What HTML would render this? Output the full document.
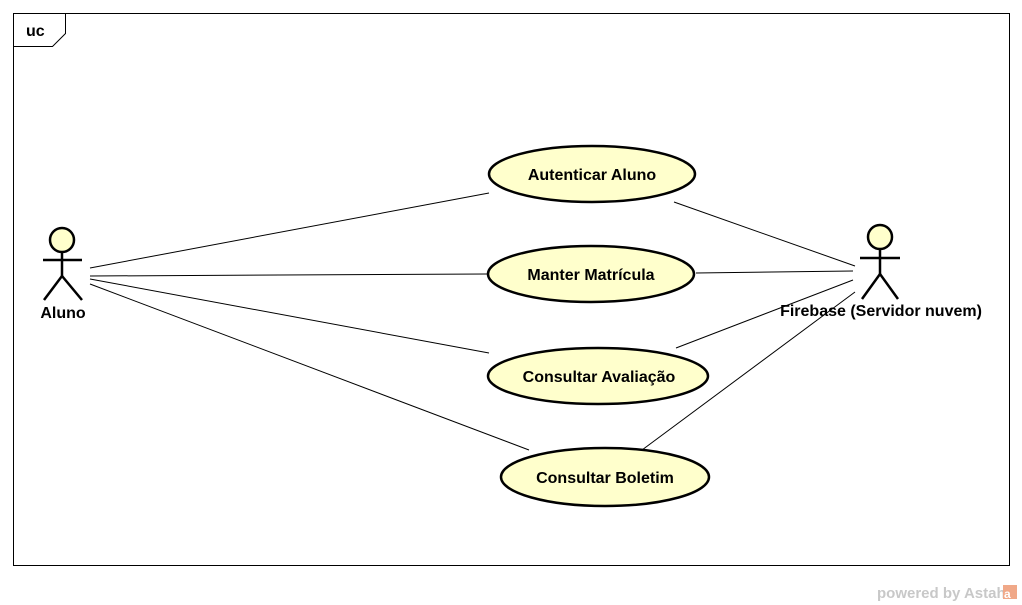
<!DOCTYPE html>
<html><head><meta charset="utf-8"><style>
html,body{margin:0;padding:0;background:#fff;width:1022px;height:605px;overflow:hidden}
text{font-family:"Liberation Sans",Arial,sans-serif;font-weight:bold}
</style></head><body>
<svg width="1022" height="605" viewBox="0 0 1022 605" xmlns="http://www.w3.org/2000/svg">
<rect x="13.5" y="13.5" width="996" height="552" fill="#fff" stroke="#000" stroke-width="1"/>
<path d="M13.5 46.5 H52.5 L65.5 33.5 V13.5" fill="none" stroke="#000"/>
<text x="26" y="36" font-size="16" font-weight="bold">uc</text>
<g stroke="#000" stroke-width="1" fill="none">
<line x1="90" y1="268" x2="489" y2="193"/>
<line x1="90" y1="276" x2="487" y2="274"/>
<line x1="90" y1="279" x2="489" y2="353"/>
<line x1="90" y1="284" x2="529" y2="450"/>
<line x1="674" y1="202" x2="855" y2="266"/>
<line x1="696" y1="273" x2="853" y2="271"/>
<line x1="676" y1="348" x2="853" y2="280"/>
<line x1="642" y1="450" x2="855" y2="292"/>
</g>
<g stroke="#000" stroke-width="2.5" fill="#ffffcc">
<ellipse cx="592" cy="174" rx="103" ry="28"/>
<ellipse cx="591" cy="274" rx="103" ry="28"/>
<ellipse cx="598" cy="376" rx="110" ry="28"/>
<ellipse cx="605" cy="477" rx="104" ry="29"/>
</g>
<g font-size="16" text-anchor="middle">
<text x="592" y="180">Autenticar Aluno</text>
<text x="591" y="280">Manter Matrícula</text>
<text x="599" y="382">Consultar Avaliação</text>
<text x="605" y="483">Consultar Boletim</text>
</g>
<g stroke="#000" stroke-width="2.5" fill="none">
<circle cx="62" cy="240" r="12" fill="#ffffcc"/>
<line x1="43" y1="260" x2="82" y2="260"/>
<line x1="62" y1="252" x2="62" y2="276"/>
<polyline points="44,300 62,276 82,300"/>
<circle cx="880" cy="237" r="12" fill="#ffffcc"/>
<line x1="860" y1="258" x2="900" y2="258"/>
<line x1="880" y1="249" x2="880" y2="274"/>
<polyline points="862,299 880,274 898,299"/>
</g>
<text x="63" y="318" font-size="16" text-anchor="middle">Aluno</text>
<text x="881" y="316" font-size="16" text-anchor="middle">Firebase (Servidor nuvem)</text>
<text x="877" y="598" font-size="15" fill="#c8c8c8">powered by Astah</text>
<rect x="1003" y="585" width="14" height="14" fill="#f0a888"/>
<text x="1004" y="598" font-size="12" fill="#fff">a</text>
</svg>
</body></html>
